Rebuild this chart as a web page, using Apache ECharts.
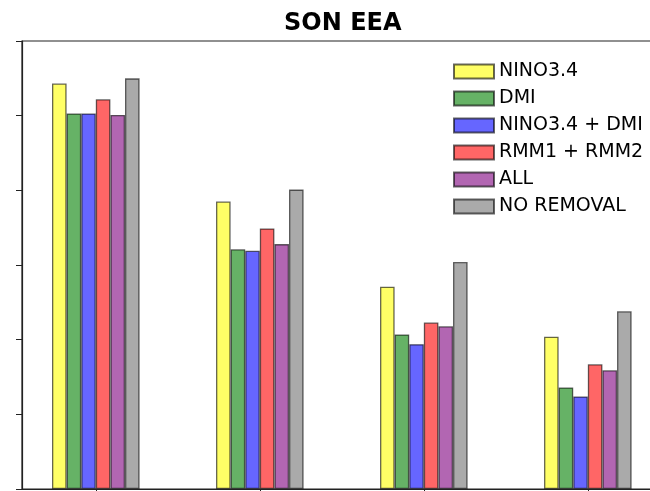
<!DOCTYPE html>
<html>
<head>
<meta charset="utf-8">
<script src="https://cdn.jsdelivr.net/npm/echarts@6/dist/echarts.min.js"></script>
<style>
  html, body { margin: 0; padding: 0; background: #fff; }
  #chart { width: 650px; height: 491px; }
</style>
</head>
<body>
<div id="chart"></div>
<script>
// Group positions along the x axis (one group per lead / case)
const groupPositions = [0, 1, 2, 3];

// Bar heights per experiment
const nino34 = [5.43, 3.85, 2.71, 2.04];
const dmi = [5.03, 3.21, 2.07, 1.36];
const nino34Dmi = [5.03, 3.19, 1.94, 1.24];
const rmm = [5.22, 3.49, 2.23, 1.67];
const allRemoved = [5.01, 3.28, 2.18, 1.59];
const noRemoval = [5.50, 4.01, 3.04, 2.38];

const seriesNames = ['NINO3.4', 'DMI', 'NINO3.4 + DMI', 'RMM1 + RMM2', 'ALL', 'NO REMOVAL'];
const seriesValues = [nino34, dmi, nino34Dmi, rmm, allRemoved, noRemoval];
const seriesColors = ['#ffff66', '#66b266', '#6666ff', '#ff6666', '#b266b2', '#aaaaaa'];

const yTicks = [0, 1, 2, 3, 4, 5, 6];

const chart = echarts.init(document.getElementById('chart'), null, { renderer: 'canvas' });

const series = seriesNames.map((name, i) => ({
  name: name,
  type: 'bar',
  barWidth: 14.6,
  barGap: '0%',
  itemStyle: {
    color: seriesColors[i],
    borderColor: 'rgba(0,0,0,0.6)',
    borderWidth: 1.3
  },
  emphasis: { disabled: true },
  data: groupPositions.map((x, j) => [x, seriesValues[i][j]])
}));

chart.setOption({
  animation: false,
  backgroundColor: '#ffffff',
  title: {
    text: 'SON EEA',
    left: 279,
    top: 7,
    textStyle: {
      fontFamily: 'DejaVu Sans',
      fontWeight: 'bold',
      fontSize: 24,
      color: '#000'
    }
  },
  legend: {
    orient: 'vertical',
    left: 453,
    top: 62,
    padding: 0,
    itemWidth: 40,
    itemHeight: 14,
    itemGap: 8,
    icon: 'rect',
    selectedMode: false,
    textStyle: {
      fontFamily: 'DejaVu Sans',
      fontSize: 19,
      lineHeight: 19,
      color: '#000'
    },
    data: seriesNames
  },
  grid: {
    left: 22,
    top: 41,
    width: 638,
    height: 448,
    show: true,
    borderColor: '#222',
    borderWidth: 1.2,
    outerBoundsMode: 'none'
  },
  xAxis: {
    type: 'value',
    min: -0.45,
    max: 3.44,
    splitLine: { show: false },
    axisLine: { show: true, onZero: false, lineStyle: { color: '#222', width: 1.2 } },
    axisTick: { show: true, customValues: groupPositions, length: 5, lineStyle: { color: '#222' } },
    axisLabel: { show: false }
  },
  yAxis: {
    type: 'value',
    min: yTicks[0],
    max: yTicks[yTicks.length - 1],
    interval: 1,
    splitLine: { show: false },
    axisLine: { show: true, onZero: false, lineStyle: { color: '#222', width: 1.2 } },
    axisTick: { show: true, length: 6, lineStyle: { color: '#222' } },
    axisLabel: { show: false }
  },
  series: series
});
</script>
</body>
</html>
